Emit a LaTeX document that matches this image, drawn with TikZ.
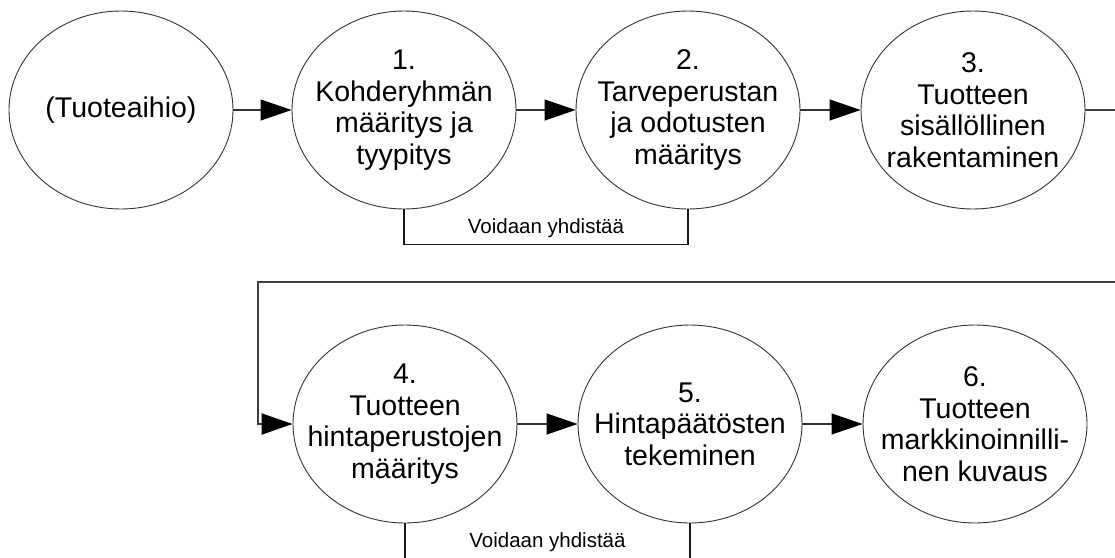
\documentclass[tikz,border=0pt]{standalone}
\usepackage{fontspec}
\setmainfont{Liberation Sans}
\usetikzlibrary{arrows.meta,positioning,shapes.geometric}

\begin{document}
\begin{tikzpicture}[
    x=1pt, y=-1pt,
    phase/.style={draw=black!80, ellipse, line width=0.9pt,
                  minimum width=224pt, minimum height=198pt, inner sep=-25pt,
                  align=center, font=\fontsize{28.5}{31.5}\selectfont},
    arr/.style={-{Triangle[length=31pt, width=21pt, color=black]}, line width=1.2pt, draw=black!80},
    back/.style={arr, line width=2pt, draw=black!75},
    link/.style={line width=1.8pt, draw=black!90},
    note/.style={font=\fontsize{20.5}{24}\selectfont, above=2.5pt}
]
\useasboundingbox (0,0) rectangle (1115,557);
% centres : 121 404 688 973 (haut, y=110) / 405 690 975 (bas, y=424)

% Ligne du haut
\node[phase] (e0) at (121, 110) {(Tuoteaihio)};
\node[phase] (e1) at (404, 110) {1.\\Kohderyhmän\\määritys ja\\tyypitys};
\node[phase] (e2) at (688, 110) {2.\\Tarveperustan\\ja odotusten\\määritys};
\node[phase] (e3) at (973, 110) {3.\\Tuotteen\\sisällöllinen\\rakentaminen};

% Ligne du bas
\node[phase] (e4) at (405, 424) {4.\\Tuotteen\\hintaperustojen\\määritys};
\node[phase] (e5) at (690, 424) {5.\\Hintapäätösten\\tekeminen};
\node[phase] (e6) at (975, 424) {6.\\Tuotteen\\markkinoinnilli-\\nen kuvaus};

% Flèches
\draw[arr] (e0.east) -- (e1.west);
\draw[arr] (e1.east) -- (e2.west);
\draw[arr] (e2.east) -- (e3.west);
\draw[arr] (e4.east) -- (e5.west);
\draw[arr] (e5.east) -- (e6.west);

% Retour vers la ligne du bas
\coordinate (turn) at (258, 282);
\draw[back] (e3.east) -- (1130, 110) |- (turn) |- (e4.west);

% Regroupements
\draw[link] (e1.south) -- ++(0, 35) -| node[note, pos=0.25] {Voidaan yhdistää} (e2.south);
\draw[link] (e4.south) -- ++(0, 35) -| node[note, pos=0.25] {Voidaan yhdistää} (e5.south);
\end{tikzpicture}
\end{document}
